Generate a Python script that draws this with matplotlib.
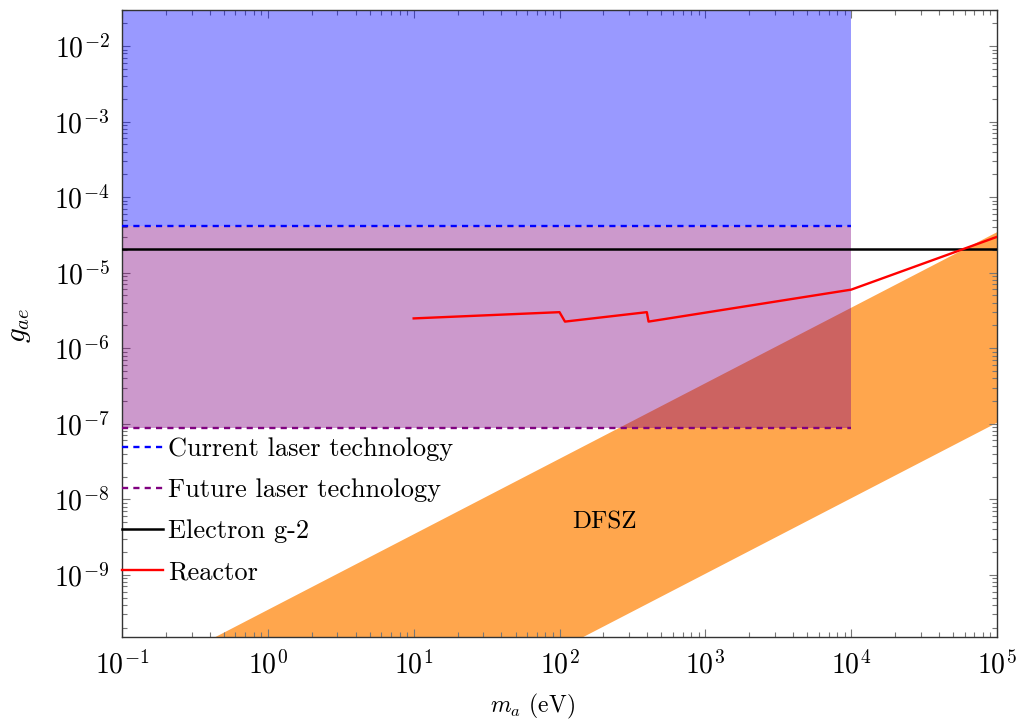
import numpy as np
import matplotlib
matplotlib.use('Agg')
import matplotlib.pyplot as plt

plt.rcParams['font.family'] = 'serif'
plt.rcParams['font.serif'] = ['cmr10']
plt.rcParams['mathtext.fontset'] = 'cm'
plt.rcParams['axes.formatter.use_mathtext'] = True
plt.rcParams['axes.unicode_minus'] = False

# limits
m_lo, m_hi = 0.1, 1e5
g_lo, g_hi = 1.5e-10, 3e-2
x_ticks = [1e-1, 1e0, 1e1, 1e2, 1e3, 1e4, 1e5]
y_ticks = [1e-9, 1e-8, 1e-7, 1e-6, 1e-5, 1e-4, 1e-3, 1e-2]

# laser bounds (m_a up to 1e4 eV)
laser_m = [0.1, 1e4]
current_laser = 4.1e-5
future_laser = 8.9e-8
electron_g2 = 2.05e-5

# reactor curve
reactor_m = [10, 100, 109, 397, 408, 1e4, 1e5]
reactor_g = [2.48e-6, 3.0e-6, 2.25e-6, 3.0e-6, 2.25e-6, 5.96e-6, 2.98e-5]

# DFSZ band: g = c * m
dfsz_m = [1e-2, 1e6]
dfsz_hi_coef = 3.43e-10
dfsz_lo_coef = 1.03e-12

fig = plt.figure(figsize=(10.21, 7.22), dpi=100)
ax = fig.add_axes([0.1195, 0.1177, 0.857, 0.8684])

dm = np.array(dfsz_m)
ax.fill_between(dm, dfsz_lo_coef * dm, dfsz_hi_coef * dm, color='#FFA64D', lw=0, zorder=1)
ax.fill_between(laser_m, [current_laser] * 2, [1.0] * 2, color='blue', alpha=0.4, lw=0, zorder=2)
ax.fill_between(laser_m, [future_laser] * 2, [current_laser] * 2, color='purple', alpha=0.4, lw=0, zorder=2)

dash = (0, (2.6, 2.2))
ax.plot(laser_m, [current_laser] * 2, color='blue', lw=1.7, ls=dash, label='Current laser technology', zorder=3)
ax.plot(laser_m, [future_laser] * 2, color='purple', lw=1.7, ls=dash, label='Future laser technology', zorder=3)
ax.axhline(electron_g2, color='black', lw=1.8, label='Electron g-2', zorder=3)
ax.plot(reactor_m, reactor_g, color='red', lw=1.7, label='Reactor', zorder=4)

ax.text(202, 5e-9, 'DFSZ', fontsize=18, ha='center', va='center')

ax.set_xscale('log')
ax.set_yscale('log')
ax.set_xlim(m_lo, m_hi)
ax.set_ylim(g_lo, g_hi)
ax.xaxis.set_major_locator(matplotlib.ticker.FixedLocator(x_ticks))
ax.yaxis.set_major_locator(matplotlib.ticker.FixedLocator(y_ticks))
ax.xaxis.set_major_formatter(matplotlib.ticker.LogFormatterSciNotation())
ax.yaxis.set_major_formatter(matplotlib.ticker.LogFormatterSciNotation())
ax.xaxis.set_minor_locator(matplotlib.ticker.LogLocator(base=10, subs=np.arange(2, 10), numticks=20))
ax.yaxis.set_minor_locator(matplotlib.ticker.LogLocator(base=10, subs=np.arange(2, 10), numticks=20))
ax.xaxis.set_minor_formatter(matplotlib.ticker.NullFormatter())
ax.yaxis.set_minor_formatter(matplotlib.ticker.NullFormatter())
ax.tick_params(which='both', direction='in', top=True, right=True, color='#777777', labelsize=20)
ax.tick_params(which='major', length=6, width=0.8)
ax.tick_params(which='minor', length=3.5, width=0.8)
ax.tick_params(axis='x', which='major', pad=10)
ax.tick_params(axis='y', which='major', pad=9)
for s in ax.spines.values():
    s.set_color('#333333')
    s.set_linewidth(1.0)

ax.set_xlabel(r'$m_a$ (eV)', fontsize=17)
ax.set_ylabel(r'$g_{ae}$', fontsize=21)
ax.xaxis.set_label_coords(0.469, -0.088)
ax.yaxis.set_label_coords(-0.102, 0.498)

ax.legend(loc='upper left', bbox_to_anchor=(0, 0.319), frameon=False, fontsize=19,
          borderaxespad=0, borderpad=0, handlelength=1.55, handletextpad=0.19,
          labelspacing=0.66)

fig.savefig('out.png', dpi=100)
